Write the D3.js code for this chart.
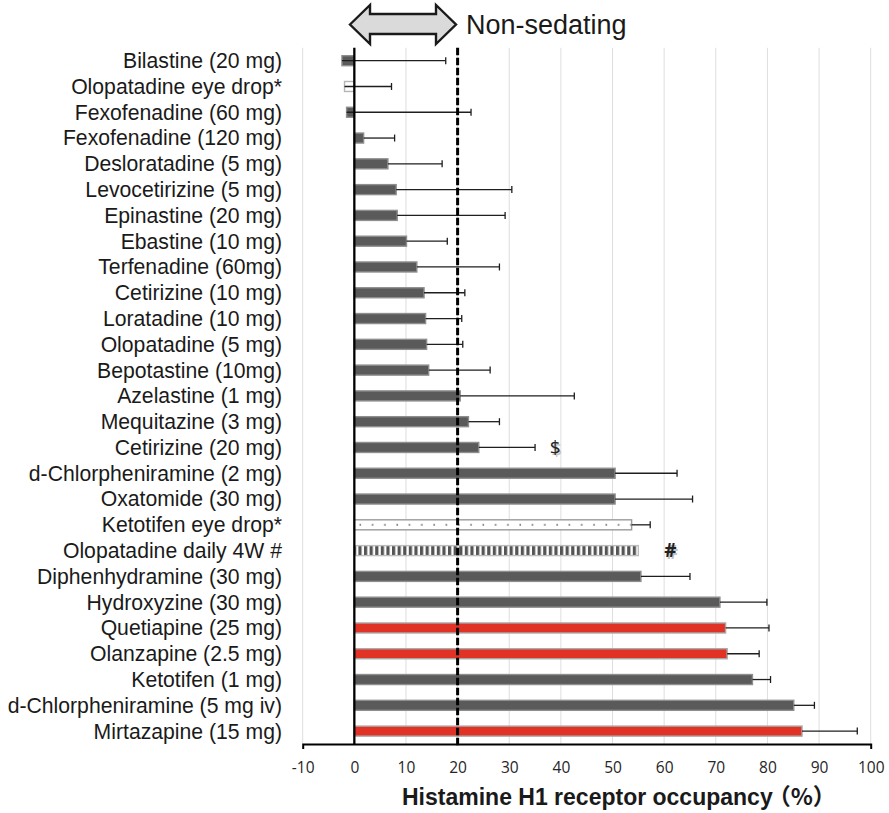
<!DOCTYPE html>
<html>
<head>
<meta charset="utf-8">
<script src="https://cdnjs.cloudflare.com/ajax/libs/d3/7.8.5/d3.min.js"></script>
<style>
  body { margin: 0; background: #fff; }
  svg { display: block; }
  .lbl { font-family: "Liberation Sans", Arial, sans-serif; font-size: 21.2px; fill: #1a1a1a; }
  .tick text { font-family: "Open Sans", sans-serif; font-size: 15.5px; fill: #262626; }
</style>
</head>
<body>
<svg width="889" height="813"></svg>
<script>
// drugs, top to bottom
var drugs = [
  "Bilastine (20 mg)", "Olopatadine eye drop*", "Fexofenadine (60 mg)", "Fexofenadine (120 mg)",
  "Desloratadine (5 mg)", "Levocetirizine (5 mg)", "Epinastine (20 mg)", "Ebastine (10 mg)",
  "Terfenadine (60mg)", "Cetirizine (10 mg)", "Loratadine (10 mg)", "Olopatadine (5 mg)",
  "Bepotastine (10mg)", "Azelastine (1 mg)", "Mequitazine (3 mg)", "Cetirizine (20 mg)",
  "d-Chlorpheniramine (2 mg)", "Oxatomide (30 mg)", "Ketotifen eye drop*", "Olopatadine daily 4W #",
  "Diphenhydramine (30 mg)", "Hydroxyzine (30 mg)", "Quetiapine (25 mg)", "Olanzapine (2.5 mg)",
  "Ketotifen (1 mg)", "d-Chlorpheniramine (5 mg iv)", "Mirtazapine (15 mg)"
];
// mean occupancy (%)
var occupancy = [
  -2.4, -1.9, -1.5, 1.8,
  6.5, 8.1, 8.3, 10.1,
  12.1, 13.5, 13.8, 14.0,
  14.4, 20.5, 22.1, 24.1,
  50.5, 50.5, 53.7, 55.0,
  55.5, 70.8, 71.9, 72.2,
  77.1, 85.1, 86.7
];
// upper end of the error bar (null = none)
var errorTop = [
  17.7, 7.2, 22.6, 7.8,
  17.0, 30.5, 29.2, 18.0,
  28.1, 21.4, 20.8, 21.0,
  26.3, 42.6, 28.1, 35.0,
  62.5, 65.5, 57.3, null,
  65.0, 79.9, 80.3, 78.4,
  80.6, 89.1, 97.4
];
// kind of measurement
var kind = [
  "oral", "eyedrop", "oral", "oral",
  "oral", "oral", "oral", "oral",
  "oral", "oral", "oral", "oral",
  "oral", "oral", "oral", "oral",
  "oral", "oral", "eyedrop2", "daily",
  "oral", "oral", "psych", "psych",
  "oral", "oral", "psych"
];
var xTicks = [-10, 0, 10, 20, 30, 40, 50, 60, 70, 80, 90, 100];
var threshold = 20;
var marks = [
  { drug: "Cetirizine (20 mg)", symbol: "$", at: 38.9 },
  { drug: "Olopatadine daily 4W #", symbol: "#", at: 61.2 }
];

var svg = d3.select("svg");
var x = d3.scaleLinear().domain([-10, 100]).range([302.7, 870.7]);
var y = d3.scaleBand().domain(drugs).range([47.8, 744]);
var bh = 10;
var mid = function(d) { return y(d) + y.bandwidth() / 2; };

// patterns
var defs = svg.append("defs");
var stripes = defs.append("pattern").attr("id", "stripes")
  .attr("patternUnits", "userSpaceOnUse").attr("width", 5.6).attr("height", 20);
stripes.append("rect").attr("width", 5.6).attr("height", 20).attr("fill", "#fff");
stripes.append("rect").attr("width", 3.2).attr("height", 20).attr("fill", "#555");
var dots = defs.append("pattern").attr("id", "dots")
  .attr("patternUnits", "userSpaceOnUse").attr("width", 12.3).attr("height", 30)
  .attr("x", x(0) + 2).attr("y", mid(drugs[18]) - 15);
dots.append("rect").attr("width", 12.3).attr("height", 30).attr("fill", "#fff");
dots.append("circle").attr("cx", 4).attr("cy", 15).attr("r", 0.9).attr("fill", "#777");

// gridlines
svg.append("g").selectAll("line")
  .data(xTicks.filter(function(t) { return t != 0; }))
  .enter().append("line")
  .attr("x1", function(d) { return x(d); }).attr("x2", function(d) { return x(d); })
  .attr("y1", 47.8).attr("y2", 744)
  .attr("stroke", "#dedede").attr("stroke-width", 1);

// bars
var style = {
  oral: { fill: "#5a5a5a", stroke: "#8e8e8e" },
  psych: { fill: "#e03325", stroke: "#a8a8a8" },
  eyedrop: { fill: "#fff", stroke: "#b5b5b5" },
  eyedrop2: { fill: "url(#dots)", stroke: "#9a9a9a" },
  daily: { fill: "url(#stripes)", stroke: "#bdbdbd" }
};
svg.append("g").selectAll("rect")
  .data(drugs)
  .enter().append("rect")
  .attr("x", function(d, i) { return x(Math.min(0, occupancy[i])); })
  .attr("width", function(d, i) { return Math.abs(x(occupancy[i]) - x(0)); })
  .attr("y", function(d) { return mid(d) - bh / 2; })
  .attr("height", bh)
  .attr("fill", function(d, i) { return style[kind[i]].fill; })
  .attr("stroke", function(d, i) { return style[kind[i]].stroke; })
  .attr("stroke-width", 1.4);

// error bars
var eb = svg.append("g").attr("stroke", "#1e1e1e").attr("stroke-width", 1.3);
drugs.forEach(function(d, i) {
  if (errorTop[i] == null) return;
  eb.append("line").attr("x1", x(occupancy[i])).attr("x2", x(errorTop[i]))
    .attr("y1", mid(d)).attr("y2", mid(d));
  eb.append("line").attr("x1", x(errorTop[i])).attr("x2", x(errorTop[i]))
    .attr("y1", mid(d) - 3.5).attr("y2", mid(d) + 3.5);
});

// zero line and threshold
svg.append("line").attr("x1", x(0)).attr("x2", x(0)).attr("y1", 47.8).attr("y2", 744)
  .attr("stroke", "#000").attr("stroke-width", 2.3);
svg.append("line").attr("x1", x(threshold)).attr("x2", x(threshold)).attr("y1", 47.8).attr("y2", 746)
  .attr("stroke", "#000").attr("stroke-width", 3).attr("stroke-dasharray", "7.5,2.5");

// axis
var ax = svg.append("g").attr("transform", "translate(0,744)")
  .call(d3.axisBottom(x).tickValues(xTicks).tickFormat(function(d) { return String(d); })
    .tickSizeInner(0).tickSizeOuter(5).tickPadding(18));
ax.select(".domain").attr("stroke", "#000").attr("stroke-width", 2);

// drug labels
svg.append("g").selectAll("text")
  .data(drugs)
  .enter().append("text")
  .attr("class", "lbl")
  .attr("x", 282).attr("y", function(d) { return mid(d); }).attr("dy", "0.35em")
  .attr("text-anchor", "end")
  .text(function(d) { return d; });

// $ and # marks
marks.forEach(function(m) {
  [["#c4c4c4", 1.5], ["#222", 0]].forEach(function(s) {
    svg.append("text").attr("x", x(m.at) + s[1]).attr("y", mid(m.drug) + s[1]).attr("dy", "0.35em")
      .attr("text-anchor", "middle")
      .style("font-family", "'Open Sans', sans-serif").style("font-size", "19px")
      .style("font-weight", m.symbol == "#" ? "bold" : "normal")
      .attr("fill", s[0]).text(m.symbol);
  });
});

// double arrow at top
var ax0 = 350, ax1 = 456, cy = 24.5;
var arrow = [
  [ax0, cy], [ax0 + 20, 5], [ax0 + 20, 14], [ax1 - 20, 14], [ax1 - 20, 5], [ax1, cy],
  [ax1 - 20, 44], [ax1 - 20, 34], [ax0 + 20, 34], [ax0 + 20, 44]
];
svg.append("path").attr("d", d3.line()(arrow) + "Z")
  .attr("fill", "#dadada").attr("stroke", "#1a1a1a").attr("stroke-width", 2.4)
  .attr("stroke-linejoin", "miter");
svg.append("text").attr("x", 466).attr("y", 33.5)
  .style("font-family", "'Liberation Sans', Arial, sans-serif").style("font-size", "27px")
  .attr("fill", "#1a1a1a").text("Non-sedating");

// axis title
var title = svg.append("text").attr("x", 402).attr("y", 805)
  .style("font-family", "'Liberation Sans', Arial, sans-serif")
  .style("font-size", "23px").style("font-weight", "bold").attr("fill", "#1a1a1a");
title.append("tspan").text("Histamine H1 receptor occupancy");
title.append("tspan").attr("dx", -5).style("font-family", "'Noto Sans CJK JP', sans-serif").text("（%）");
</script>
</body>
</html>
